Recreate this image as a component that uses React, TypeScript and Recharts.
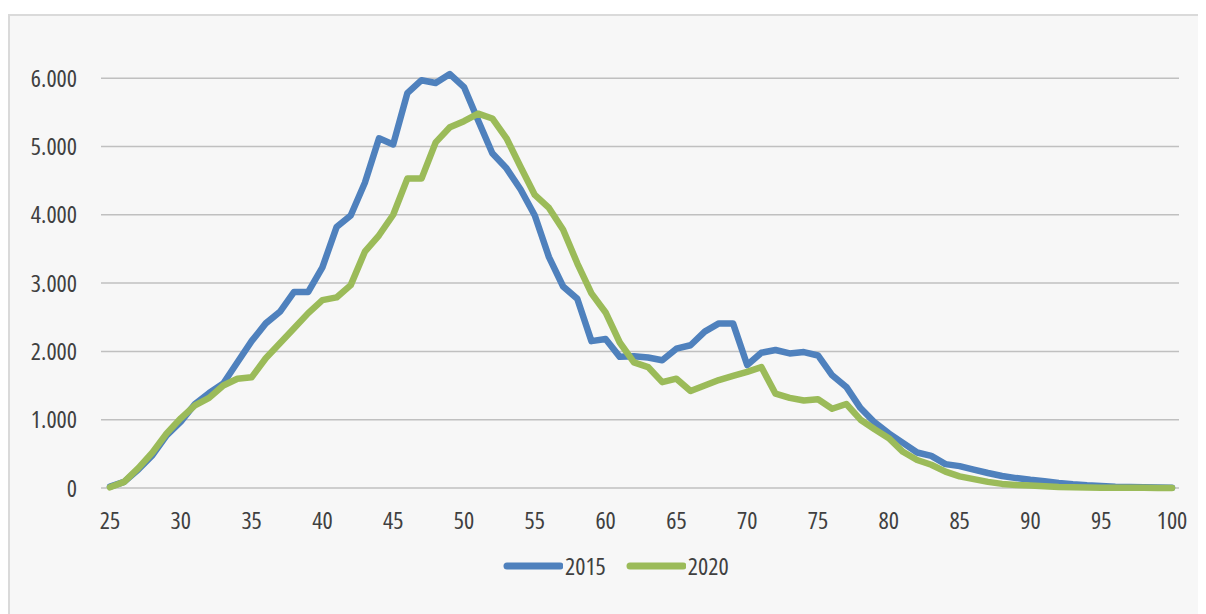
import { LineChart, Line, XAxis, YAxis, CartesianGrid, Legend } from "recharts";

const ages = [
  25, 26, 27, 28, 29, 30, 31, 32, 33, 34, 35, 36, 37, 38, 39, 40, 41, 42, 43,
  44, 45, 46, 47, 48, 49, 50, 51, 52, 53, 54, 55, 56, 57, 58, 59, 60, 61, 62,
  63, 64, 65, 66, 67, 68, 69, 70, 71, 72, 73, 74, 75, 76, 77, 78, 79, 80, 81,
  82, 83, 84, 85, 86, 87, 88, 89, 90, 91, 92, 93, 94, 95, 96, 97, 98, 99, 100,
];

const values2015 = [
  20, 90, 270, 480, 770, 970, 1230, 1390, 1530, 1840, 2150, 2410, 2580, 2870,
  2870, 3230, 3820, 3990, 4470, 5120, 5030, 5780, 5970, 5930, 6060, 5870, 5380,
  4900, 4680, 4370, 3990, 3380, 2950, 2770, 2150, 2180, 1920, 1930, 1910, 1870,
  2040, 2090, 2290, 2410, 2410, 1800, 1980, 2020, 1970, 1990, 1940, 1650, 1480,
  1170, 960, 800, 660, 520, 470, 350, 320, 270, 220, 175, 145, 120, 100, 75, 55,
  40, 30, 20, 15, 10, 8, 5,
];

const values2020 = [
  10, 90, 290, 520, 800, 1020, 1210, 1320, 1500, 1600, 1620, 1900, 2120, 2340,
  2560, 2750, 2790, 2970, 3460, 3700, 4000, 4530, 4530, 5060, 5280, 5370, 5480,
  5410, 5120, 4700, 4290, 4100, 3780, 3290, 2850, 2570, 2130, 1840, 1770, 1550,
  1600, 1420, 1500, 1580, 1640, 1700, 1770, 1380, 1320, 1280, 1300, 1160, 1230,
  1000, 860, 730, 530, 410, 340, 240, 170, 130, 90, 60, 45, 35, 25, 15, 10, 8,
  5, 5, 3, 2, 1, 1,
];

const xTicks = [25, 30, 35, 40, 45, 50, 55, 60, 65, 70, 75, 80, 85, 90, 95, 100];
const yTicks = [0, 1000, 2000, 3000, 4000, 5000, 6000];

const BLUE = "#4f81bd";
const GREEN = "#9bbb59";
const FONT = "'Open Sans', Lato, sans-serif";

const data = ages.map((age, i) => ({
  age,
  y2015: values2015[i],
  y2020: values2020[i],
}));

const fmt = (v: number) =>
  v === 0 ? "0" : v.toLocaleString("en-US").replace(/,/g, ".");

const LegendContent = () => (
  <div
    style={{
      display: "flex",
      alignItems: "center",
      fontFamily: FONT,
      fontStretch: "condensed",
      fontSize: 24,
      color: "#404040",
    }}>
    {[
      { name: "2015", color: BLUE },
      { name: "2020", color: GREEN },
    ].map((item) => (
      <div key={item.name} style={{ display: "flex", alignItems: "center", marginRight: 20 }}>
        <svg width={60} height={10}>
          <line x1={4} y1={5} x2={57} y2={5} stroke={item.color} strokeWidth={7} strokeLinecap="round" />
        </svg>
        <span style={{ marginLeft: 2 }}>{item.name}</span>
      </div>
    ))}
  </div>
);

export default function App() {
  const tick = { fill: "#404040", fontSize: 24, fontFamily: FONT, fontStretch: "condensed" };
  return (
    <div
      style={{
        position: "relative",
        marginTop: 6,
        width: 1200,
        height: 610,
        border: "2px solid #dadada",
        background: "#f7f7f7",
        boxSizing: "border-box",
      }}>
      <style>{"body{overflow:hidden}"}</style>
      <LineChart
        width={1196}
        height={598}
        data={data}
        margin={{ top: 28, right: 27, left: 11, bottom: 86 }}>
        <CartesianGrid
          vertical={false}
          horizontalValues={yTicks}
          stroke="#c0c0c0"
          strokeWidth={1.5}
        />
        <XAxis
          dataKey="age"
          type="number"
          domain={[25, 100]}
          ticks={xTicks}
          interval={0}
          padding={{ left: 9, right: 7 }}
          axisLine={false}
          tickLine={false}
          tickMargin={18}
          height={40}
          tick={tick}
        />
        <YAxis
          domain={[0, 6500]}
          ticks={yTicks}
          width={80}
          axisLine={false}
          tickLine={false}
          tickMargin={18}
          tickFormatter={fmt}
          tick={tick}
        />
        <Legend
          verticalAlign="middle"
          align="center"
          content={<LegendContent />}
          wrapperStyle={{ top: 533, left: 493, width: 300 }}
        />
        <Line
          dataKey="y2015"
          name="2015"
          stroke={BLUE}
          strokeWidth={6.5}
          strokeLinejoin="round"
          strokeLinecap="round"
          dot={false}
          isAnimationActive={false}
        />
        <Line
          dataKey="y2020"
          name="2020"
          stroke={GREEN}
          strokeWidth={6.5}
          strokeLinejoin="round"
          strokeLinecap="round"
          dot={false}
          isAnimationActive={false}
        />
      </LineChart>
    </div>
  );
}
